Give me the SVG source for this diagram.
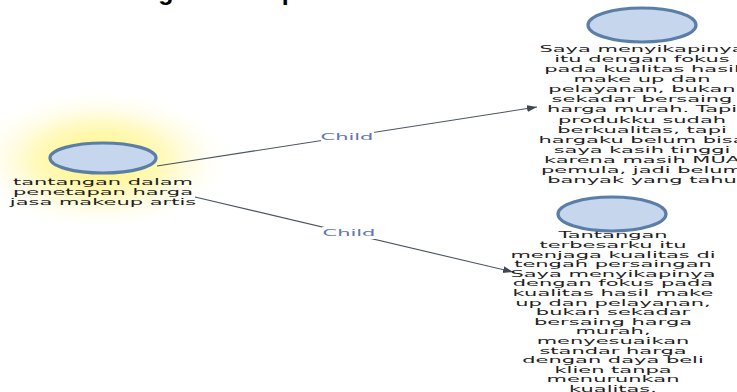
<svg xmlns="http://www.w3.org/2000/svg" width="737" height="392" viewBox="0 0 737 392">
  <defs>
    <radialGradient id="glow">
      <stop offset="0" stop-color="#fff46e" stop-opacity="1"/>
      <stop offset="0.5" stop-color="#fff8b0" stop-opacity="0.8"/>
      <stop offset="1" stop-color="#ffffff" stop-opacity="0"/>
    </radialGradient>
    <marker id="arrow" markerUnits="userSpaceOnUse" markerWidth="11" markerHeight="8" refX="10" refY="3.5" orient="auto">
      <path d="M0,0 L10,3.5 L0,7 z" fill="#3e4852"/>
    </marker>
    <style>
      .node { fill: #c6d6ec; stroke: #5a7ea8; stroke-width: 3.2; }
      .lbl { font-family: "DejaVu Sans", Verdana, sans-serif; font-size: 9px; fill: #1e1e1e; text-anchor: middle; }
      .edge { fill: none; stroke: #4a545e; stroke-width: 1.1; marker-end: url(#arrow); }
      .elbl { font-family: "DejaVu Sans", Verdana, sans-serif; font-size: 9px; fill: #6275b8; text-anchor: middle; }
      .title { font-family: "Liberation Sans", Arial, sans-serif; font-size: 25px; font-weight: bold; fill: #000; }
    </style>
  </defs>
  <rect width="737" height="392" fill="#ffffff"/>
  <text class="title" x="136" y="0">Figure 1. Map of the Nodes</text>
  <ellipse cx="100" cy="160" rx="135" ry="72" fill="url(#glow)"/>

  <g id="connectors">
    <g id="edge1">
      <line class="edge" x1="157" y1="166" x2="537" y2="107"/>
      <rect x="321" y="131" width="53" height="12" fill="#ffffff"/>
      <g transform="translate(347,0) scale(2.33,1)"><text class="elbl" x="0" y="140.5">Child</text></g>
    </g>
    <g id="edge2">
      <line class="edge" x1="195" y1="197" x2="513" y2="272"/>
      <rect x="322" y="227" width="54" height="12" fill="#ffffff"/>
      <g transform="translate(349,0) scale(2.33,1)"><text class="elbl" x="0" y="236.5">Child</text></g>
    </g>
  </g>

  <g id="node-root">
    <ellipse class="node" cx="103" cy="158" rx="53" ry="15"/>
    <g transform="translate(103,0) scale(2.33,1)">
      <text class="lbl" x="0" y="185">tantangan dalam<tspan x="0" dy="10">penetapan harga</tspan><tspan x="0" dy="10">jasa makeup artis</tspan></text>
    </g>
  </g>

  <g id="node-child1">
    <ellipse class="node" cx="642" cy="25" rx="54" ry="17"/>
    <g transform="translate(642,0) scale(2.33,1)">
      <text class="lbl" x="0" y="52">Saya menyikapinya<tspan x="0" dy="10.08">itu dengan fokus</tspan><tspan x="0" dy="10.08">pada kualitas hasil</tspan><tspan x="0" dy="10.08">make up dan</tspan><tspan x="0" dy="10.08">pelayanan, bukan</tspan><tspan x="0" dy="10.08">sekadar bersaing</tspan><tspan x="0" dy="10.08">harga murah. Tapi</tspan><tspan x="0" dy="10.08">produkku sudah</tspan><tspan x="0" dy="10.08">berkualitas, tapi</tspan><tspan x="0" dy="10.08">hargaku belum bisa</tspan><tspan x="0" dy="10.08">saya kasih tinggi</tspan><tspan x="0" dy="10.08">karena masih MUA</tspan><tspan x="0" dy="10.08">pemula, jadi belum</tspan><tspan x="0" dy="10.08">banyak yang tahu</tspan></text>
    </g>
  </g>

  <g id="node-child2">
    <ellipse class="node" cx="612" cy="214" rx="54" ry="17"/>
    <g transform="translate(613,0) scale(2.33,1)">
      <text class="lbl" x="0" y="238.5">Tantangan<tspan x="0" dy="9.6">terbesarku itu</tspan><tspan x="0" dy="9.6">menjaga kualitas di</tspan><tspan x="0" dy="9.6">tengah persaingan</tspan><tspan x="0" dy="9.6">Saya menyikapinya</tspan><tspan x="0" dy="9.6">dengan fokus pada</tspan><tspan x="0" dy="9.6">kualitas hasil make</tspan><tspan x="0" dy="9.6">up dan pelayanan,</tspan><tspan x="0" dy="9.6">bukan sekadar</tspan><tspan x="0" dy="9.6">bersaing harga</tspan><tspan x="0" dy="9.6">murah,</tspan><tspan x="0" dy="9.6">menyesuaikan</tspan><tspan x="0" dy="9.6">standar harga</tspan><tspan x="0" dy="9.6">dengan daya beli</tspan><tspan x="0" dy="9.6">klien tanpa</tspan><tspan x="0" dy="9.6">menurunkan</tspan><tspan x="0" dy="9.6">kualitas.</tspan></text>
    </g>
  </g>
</svg>
